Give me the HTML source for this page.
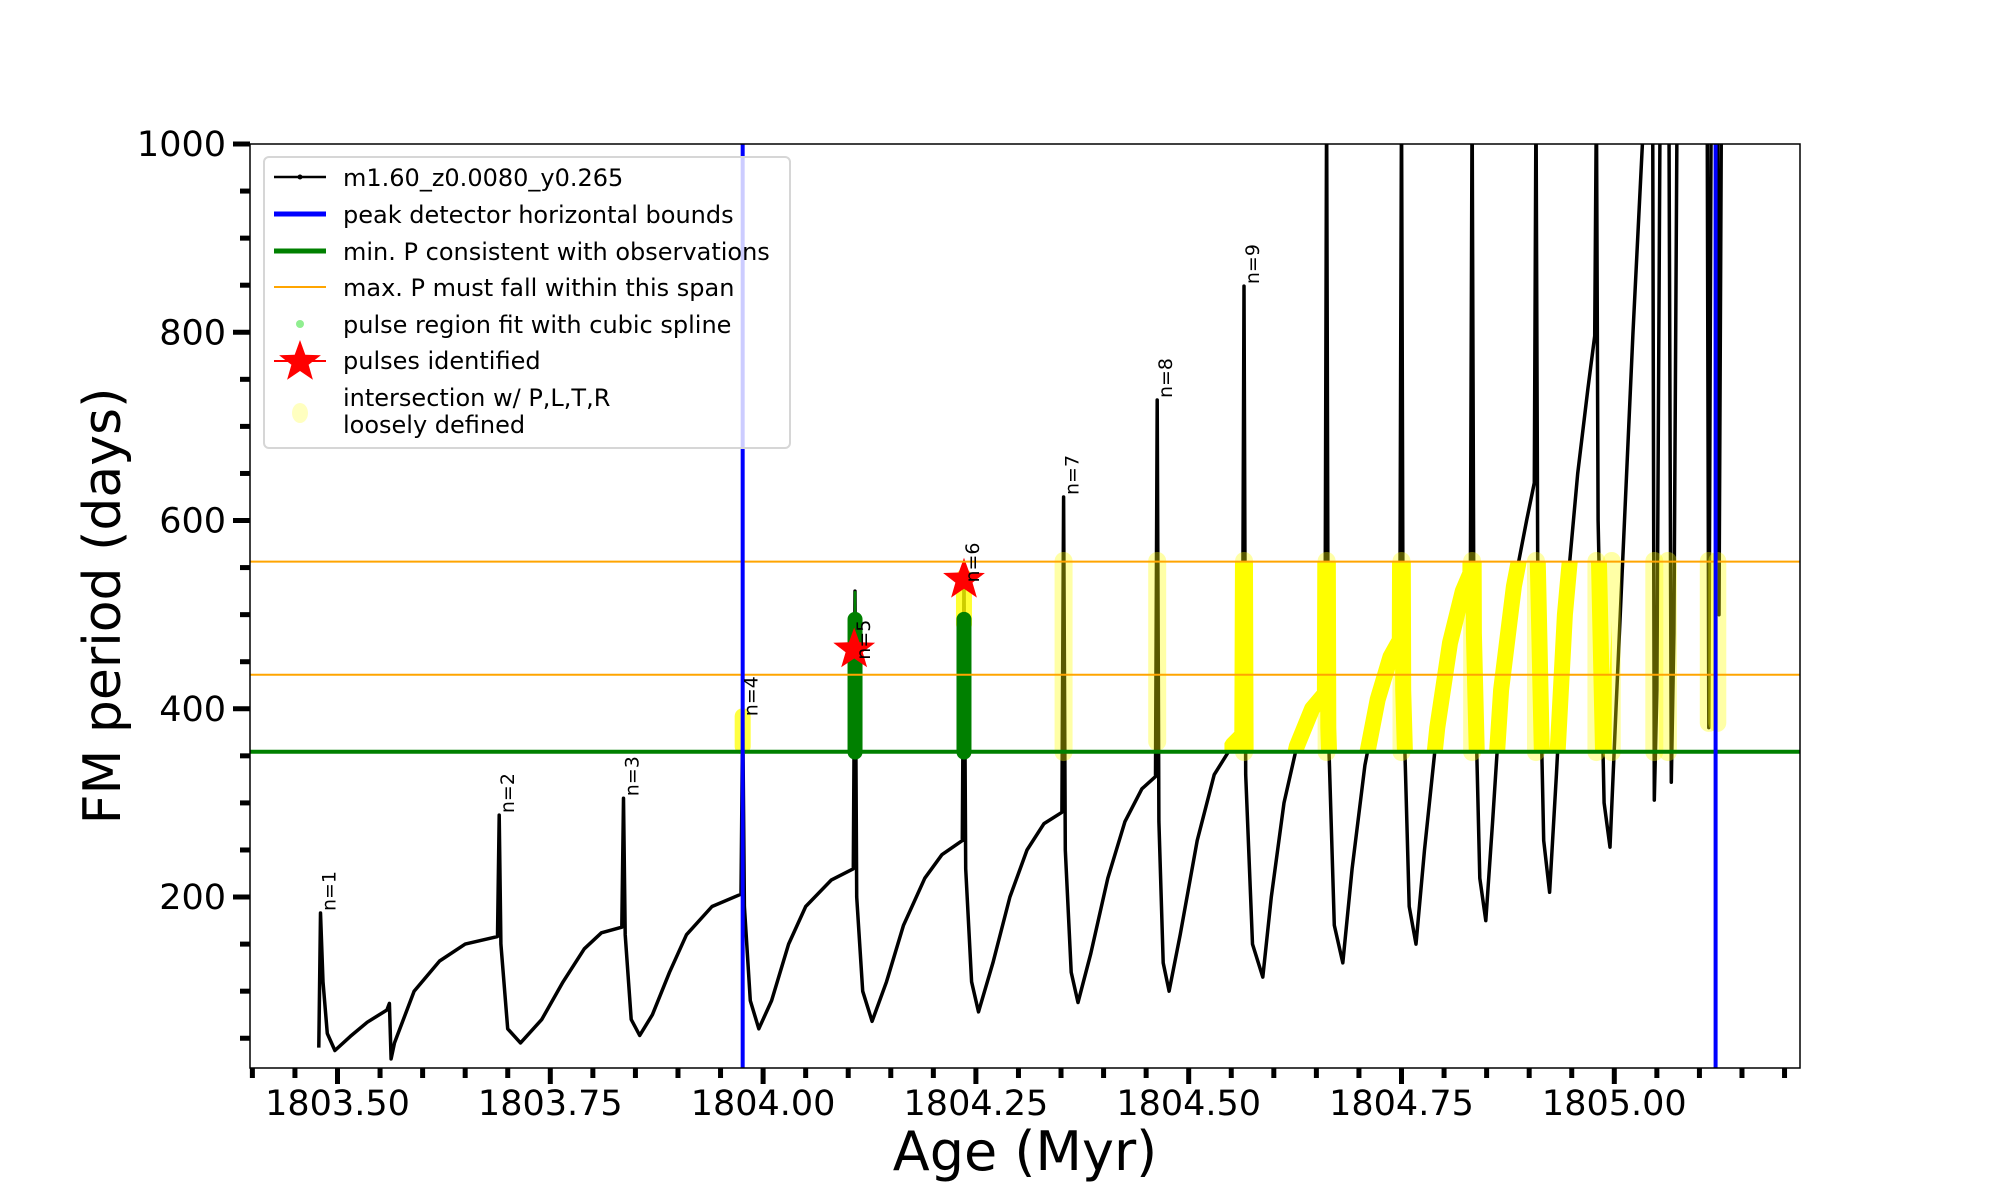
<!DOCTYPE html>
<html><head><meta charset="utf-8"><style>
html,body{margin:0;padding:0;background:#fff;}
svg{display:block;font-family:"DejaVu Sans","Liberation Sans",sans-serif;}
</style></head><body>
<svg id="chart" width="2000" height="1200" viewBox="0 0 2000 1200" xmlns="http://www.w3.org/2000/svg">
<defs>
<clipPath id="plotclip"><rect x="250" y="144" width="1550" height="924"/></clipPath>
<clipPath id="yelclip"><rect id="yelrect" x="0" y="0" width="0" height="0"/></clipPath>
</defs>
<rect x="0" y="0" width="2000" height="1200" fill="#fff"/>
<g id="plot" clip-path="url(#plotclip)"></g>
<rect x="250" y="144" width="1550" height="924" fill="none" stroke="#000" stroke-width="1.5"/>
<g id="axes"></g>
<text x="1025" y="1170" font-size="54" text-anchor="middle">Age (Myr)</text>
<text transform="translate(120,606) rotate(-90)" font-size="52" text-anchor="middle">FM period (days)</text>
<g>
<rect x="264" y="157" width="526" height="291" rx="5" fill="rgba(255,255,255,0.8)" stroke="#d6d6d6" stroke-width="2"/>
<line x1="274" y1="177" x2="326" y2="177" stroke="#000" stroke-width="2.5"/><circle cx="300" cy="177" r="2.5" fill="#000"/>
<text x="343" y="186" font-size="24">m1.60_z0.0080_y0.265</text>
<line x1="274" y1="214" x2="326" y2="214" stroke="#0000ff" stroke-width="5"/>
<text x="343" y="223" font-size="24">peak detector horizontal bounds</text>
<line x1="274" y1="251" x2="326" y2="251" stroke="#008000" stroke-width="5"/>
<text x="343" y="260" font-size="24">min. P consistent with observations</text>
<line x1="274" y1="287" x2="326" y2="287" stroke="#ffa500" stroke-width="2"/>
<text x="343" y="296" font-size="24">max. P must fall within this span</text>
<circle cx="300" cy="324" r="4" fill="#90ee90"/>
<text x="343" y="333" font-size="24">pulse region fit with cubic spline</text>
<polygon id="legstar" fill="#ff0000"/>
<line x1="274" y1="361" x2="326" y2="361" stroke="#ff0000" stroke-width="2"/>
<text x="343" y="369" font-size="24">pulses identified</text>
<ellipse cx="300" cy="413" rx="8" ry="10" fill="#ffffc0"/>
<text x="343" y="406" font-size="24">intersection w/ P,L,T,R</text>
<text x="343" y="433" font-size="24">loosely defined</text>
</g>
</svg>
<script>
const ages=[1803.478,1803.480,1803.483,1803.488,1803.497,1803.515,1803.535,1803.558,1803.561,1803.563,1803.567,1803.59,1803.62,1803.65,1803.688,1803.690,1803.692,1803.700,1803.715,1803.74,1803.765,1803.79,1803.81,1803.834,1803.836,1803.838,1803.845,1803.855,1803.87,1803.89,1803.91,1803.94,1803.974,1803.976,1803.978,1803.985,1803.995,1804.01,1804.03,1804.05,1804.08,1804.106,1804.108,1804.110,1804.117,1804.128,1804.145,1804.165,1804.19,1804.21,1804.234,1804.236,1804.238,1804.245,1804.253,1804.27,1804.29,1804.31,1804.33,1804.351,1804.353,1804.355,1804.362,1804.370,1804.385,1804.405,1804.425,1804.445,1804.461,1804.463,1804.465,1804.470,1804.477,1804.49,1804.51,1804.53,1804.552,1804.563,1804.565,1804.567,1804.575,1804.587,1804.597,1804.612,1804.627,1804.645,1804.660,1804.662,1804.664,1804.671,1804.681,1804.692,1804.707,1804.722,1804.737,1804.748,1804.750,1804.752,1804.759,1804.767,1804.777,1804.792,1804.807,1804.822,1804.831,1804.833,1804.835,1804.842,1804.849,1804.857,1804.867,1804.882,1804.897,1804.906,1804.908,1804.910,1804.917,1804.924,1804.932,1804.942,1804.957,1804.969,1804.977,1804.979,1804.981,1804.988,1804.995,1805.002,1805.012,1805.022,1805.033,1805.039,1805.045,1805.047,1805.050,1805.054,1805.064,1805.067,1805.070,1805.074,1805.109,1805.111,1805.114,1805.121,1805.123,1805.126];
const periods=[40,183,110,55,37,52,67,80,87,28,45,100,132,150,158,287,150,60,45,70,110,145,162,168,305,160,70,53,75,120,160,190,203,395,190,90,60,90,150,190,218,230,525,200,100,68,110,170,220,245,260,545,230,110,78,130,200,250,278,290,625,250,120,88,140,220,280,315,328,728,280,130,100,160,260,330,362,372,849,330,150,115,200,300,360,400,416,1050,380,170,130,230,340,410,455,473,1050,420,190,150,250,380,470,525,544,1050,480,220,175,280,420,530,600,640,1050,560,260,205,330,500,650,740,796,1050,600,300,253,400,600,800,1000,1080,1080,303,420,1080,1080,322,480,1080,1080,380,1080,1080,500,1080];
const paleAges=[1804.353,1804.463,1804.565,1804.662,1804.750,1804.833,1804.908,1804.979,1804.997,1805.047,1805.063,1805.111,1805.121];
const paleLo=[354,365,354,354,354,354,354,354,354,354,354,385,385];
const paleHi=[557,557,557,557,557,557,557,557,557,557,557,557,557];
const greenAges=[1804.108,1804.236];
const greenLo=[354,354];
const greenHi=[495,495];
const starAges=[1804.107,1804.236];
const starPeriods=[463,537];
const labelAges=[1803.480,1803.690,1803.836,1803.976,1804.108,1804.236,1804.353,1804.463,1804.565];
const labelPeriods=[183,287,305,390,450,532,625,728,849];
const labelText=["n=1","n=2","n=3","n=4","n=5","n=6","n=7","n=8","n=9"];
const xTicks=[1803.50,1803.75,1804.00,1804.25,1804.50,1804.75,1805.00];
const xTickLabels=["1803.50","1803.75","1804.00","1804.25","1804.50","1804.75","1805.00"];
const yTicks=[200,400,600,800,1000];
const yTickLabels=["200","400","600","800","1000"];
const minP=354.4, maxPlo=436.2, maxPhi=556.3;
const blueAges=[1803.976,1805.119];

const NS="http://www.w3.org/2000/svg";
function X(a){return 337.5+(a-1803.5)*851.2;}
function Y(p){return 144+(1000-p)*0.9413;}
function mk(tag,attrs,parent){const e=document.createElementNS(NS,tag);for(const k in attrs)e.setAttribute(k,attrs[k]);parent.appendChild(e);return e;}
const plot=document.getElementById('plot');
const axes=document.getElementById('axes');
const pts=ages.map((a,i)=>X(a).toFixed(1)+','+Y(periods[i]).toFixed(1)).join(' ');
let curve=mk('polyline',{points:pts,fill:'none',stroke:'#000','stroke-width':3.5,'stroke-linejoin':'round'},plot);


const yr=document.getElementById('yelrect');
yr.setAttribute('x',X(1804.542));yr.setAttribute('width',X(1804.997)-X(1804.542));
yr.setAttribute('y',Y(maxPhi));yr.setAttribute('height',Y(minP)-Y(maxPhi));
let yel=mk('polyline',{points:pts,fill:'none',stroke:'#ffff00','stroke-width':16,'stroke-linejoin':'round','stroke-linecap':'round','clip-path':'url(#yelclip)'},plot);


paleAges.forEach((a,i)=>{
 const l=mk('line',{x1:X(a),x2:X(a),y1:Y(paleLo[i]),y2:Y(paleHi[i]),stroke:'rgba(255,255,0,0.35)','stroke-width':18,'stroke-linecap':'round'},plot);
 
 
});
let n4=mk('line',{x1:X(1803.976),x2:X(1803.976),y1:Y(360),y2:Y(392),stroke:'rgba(255,255,0,0.75)','stroke-width':16,'stroke-linecap':'round'},plot);


let n6y=mk('line',{x1:X(1804.236),x2:X(1804.236),y1:Y(490),y2:Y(540),stroke:'rgba(255,255,0,0.8)','stroke-width':16,'stroke-linecap':'round'},plot);


let thin=mk('line',{x1:X(1804.108),x2:X(1804.108),y1:Y(495),y2:Y(525),stroke:'#008000','stroke-width':2.5},plot);


greenAges.forEach((a,i)=>{
 const l=mk('line',{x1:X(a),x2:X(a),y1:Y(greenLo[i]),y2:Y(greenHi[i]),stroke:'#008000','stroke-width':15,'stroke-linecap':'round'},plot);
 
 
});
function starPts(cx,cy,R,r){let s=[];for(let k=0;k<10;k++){const ang=-Math.PI/2+k*Math.PI/5;const rr=k%2?r:R;s.push((cx+rr*Math.cos(ang)).toFixed(1)+','+(cy+rr*Math.sin(ang)).toFixed(1));}return s.join(' ');}
starAges.forEach((a,i)=>{
 const s=mk('polygon',{points:starPts(X(a),Y(starPeriods[i]),22,9),fill:'#ff0000'},plot);
 
 
});
document.getElementById('legstar').setAttribute('points',starPts(300,362,22,9));
[[minP,'#008000',4,'min-period-line'],[maxPlo,'#ffa500',2,'max-period-lower-line'],[maxPhi,'#ffa500',2,'max-period-upper-line']].forEach(h=>{
 const l=mk('line',{x1:250,x2:1800,y1:Y(h[0]),y2:Y(h[0]),stroke:h[1],'stroke-width':h[2]},plot);
 
 
});
blueAges.forEach(a=>{
 const l=mk('line',{x1:X(a),x2:X(a),y1:144,y2:1068,stroke:'#0000ff','stroke-width':4},plot);
 
 
});
labelAges.forEach((a,i)=>{
 const t=mk('text',{transform:'translate('+(X(a)+15)+','+(Y(labelPeriods[i])-2)+') rotate(-90)','font-size':19},plot);
 t.textContent=labelText[i];
 
 
});
for(let k=0;k<=36;k++){const a=1803.40+k*0.05;const x=X(a);if(x<249||x>1801)continue;
 const major=xTicks.some(t=>Math.abs(t-a)<1e-6);
 const l=mk('line',{x1:x,x2:x,y1:1068,y2:1068+(major?16:10),stroke:'#000','stroke-width':5},axes);
 
 }
xTicks.forEach((a,i)=>{const t=mk('text',{x:X(a),y:1115,'font-size':35,'text-anchor':'middle'},axes);t.textContent=xTickLabels[i];
 
 });
for(let p=50;p<=1000;p+=50){const y=Y(p);if(y>1068)continue;const major=yTicks.indexOf(p)>=0;
 const l=mk('line',{x1:250-(major?17:10),x2:250,y1:y,y2:y,stroke:'#000','stroke-width':5},axes);
 
 }
yTicks.forEach((p,i)=>{const t=mk('text',{x:226,y:Y(p)+12,'font-size':35,'text-anchor':'end'},axes);t.textContent=yTickLabels[i];
 
 });
</script>
</body></html>
